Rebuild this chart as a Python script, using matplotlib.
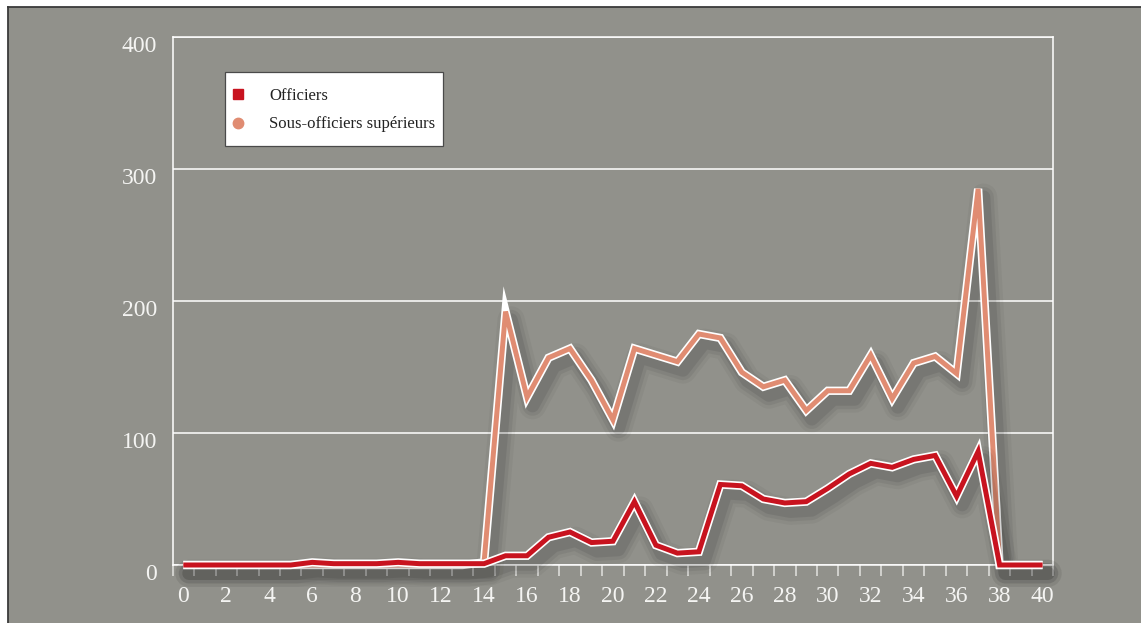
import matplotlib
matplotlib.use('Agg')
import matplotlib.pyplot as plt
import matplotlib.patheffects as pe
from matplotlib.patches import Rectangle
from matplotlib.lines import Line2D
from matplotlib.transforms import ScaledTranslation

# --- data ---
x_vals = list(range(0, 41))
officiers = [0, 0, 0, 0, 0, 0, 2, 1, 1, 1, 2, 1, 1, 1, 1,
             7, 7, 21, 25, 17, 18, 48, 15, 9, 10, 61, 60, 50, 47, 48,
             58, 69, 77, 74, 80, 83, 52, 86, 0, 0, 0]
sous_officiers = [0, 0, 0, 0, 0, 0, 0, 0, 0, 0, 0, 0, 0, 0, 2,
                  192, 127, 157, 164, 140, 110, 164, 159, 154, 175, 172, 146, 135, 140, 117,
                  132, 132, 159, 126, 153, 158, 145, 285, 0, 0, 0]
series_names = ['Officiers', 'Sous-officiers supérieurs']
xtick_vals = list(range(0, 41, 2))
ytick_vals = [0, 100, 200, 300, 400]

W, H = 1141, 623
bg = '#91918b'
red = '#c8131f'
salmon = '#e08c72'
txt_col = '#f4f4f2'

plt.rcParams['font.family'] = ['Liberation Serif', 'DejaVu Serif']

fig = plt.figure(figsize=(W/100, H/100), dpi=100, facecolor='white')

# grey panel with a dark rule on top and left
fig.patches.append(Rectangle((8/W, 0), 1, (H-6.7)/H, transform=fig.transFigure,
                             facecolor=bg, edgecolor='none', zorder=-1))
fig.add_artist(Line2D([8/W, 1], [(H-6.7)/H]*2, transform=fig.transFigure, color='#3a3a3a', lw=1.3, zorder=-0.5))
fig.add_artist(Line2D([8/W]*2, [0, (H-6.7)/H], transform=fig.transFigure, color='#3a3a3a', lw=1.3, zorder=-0.5))

ax = fig.add_axes([172.6/W, 58/H, (1053.3-172.6)/W, 528/H])
ax.set_facecolor(bg)
ax.set_xlim(-0.5, 40.5)
ax.set_ylim(0, 400)

for s in ax.spines.values():
	s.set_color('white')
	s.set_linewidth(1.1)
	s.set_zorder(1.5)
ax.set_axisbelow(True)
ax.grid(axis='y', color='white', lw=1.1)

ax.set_xticks(xtick_vals)
ax.set_xticks([v - 0.5 for v in range(0, 42)], minor=True)
ax.set_yticks(ytick_vals)
ax.tick_params(axis='x', which='major', length=0, pad=15, labelsize=17, labelcolor=txt_col)
ax.tick_params(axis='x', which='minor', length=8, width=1.1, color='#e2e2df')
ax.tick_params(axis='y', length=0, pad=11, labelsize=17, labelcolor=txt_col)
for lab in ax.get_yticklabels():
	lab.set_transform(lab.get_transform() + ScaledTranslation(0, -7.5/100, fig.dpi_scale_trans))

def line_effects(lw):
	fx = []
	# soft drop shadow: a few wide, faint, round-joined strokes
	for extra, a in [(16, 0.04), (11, 0.06), (6, 0.08)]:
		fx.append(pe.SimpleLineShadow(offset=(4, -6), shadow_color='black', alpha=a,
		                              linewidth=lw+extra, joinstyle='round', capstyle='round'))
	fx.append(pe.Stroke(linewidth=lw+2.4, foreground='white'))
	fx.append(pe.Normal())
	return fx

lw = 3.6
ax.plot(x_vals, sous_officiers, color=salmon, lw=lw, solid_joinstyle='miter', solid_capstyle='butt',
        clip_on=False, zorder=3, path_effects=line_effects(lw))
ax.plot(x_vals, officiers, color=red, lw=lw, solid_joinstyle='miter', solid_capstyle='butt',
        clip_on=False, zorder=3.1, path_effects=line_effects(lw))

# legend box drawn by hand to match the padding
fig.patches.append(Rectangle((225/W, (H-146)/H), 218.3/W, 74.3/H, transform=fig.transFigure,
                             facecolor='white', edgecolor='#4a4a4a', lw=0.9, zorder=5))
fig.add_artist(Line2D([238/W], [(H-94)/H], transform=fig.transFigure, marker='s', ms=7,
                      color=red, ls='none', zorder=6))
fig.add_artist(Line2D([238/W], [(H-123)/H], transform=fig.transFigure, marker='o', ms=7.5,
                      color=salmon, ls='none', zorder=6))
fig.text(269/W, (H-100)/H, series_names[0], fontsize=12, color='#222222', va='baseline', zorder=6)
fig.text(269/W, (H-128.3)/H, series_names[1], fontsize=12, color='#222222', va='baseline', zorder=6)

plt.savefig('out.png', dpi=100, facecolor=fig.get_facecolor())
